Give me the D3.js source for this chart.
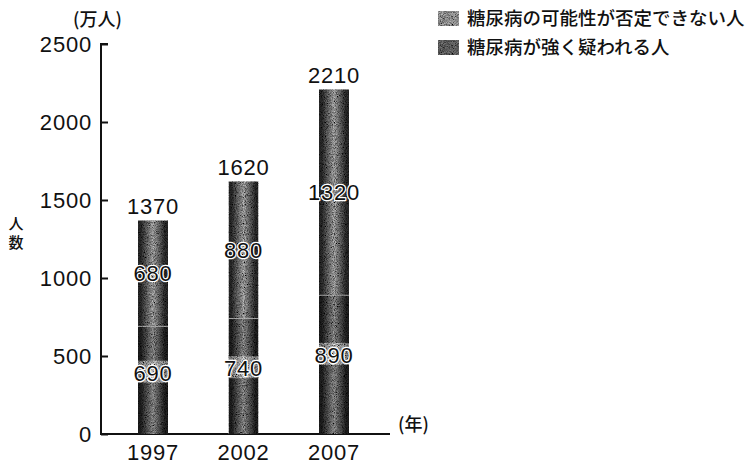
<!DOCTYPE html>
<html lang="ja">
<head>
<meta charset="UTF-8">
<script src="https://cdn.jsdelivr.net/npm/d3@7"></script>
<style>
    body { margin: 0; background: white; }
    svg text { fill: #111; }
    .num { font-family: 'Liberation Sans', Arial, sans-serif; font-size: 22px; letter-spacing: 0.8px; }
    .jp { font-family: 'Noto Sans CJK JP', sans-serif; font-weight: 500; }
</style>
</head>
<body>
<div id="chart"></div>
<script>
    const years = ["1997", "2002", "2007"];
    const strong = [690, 740, 890];        // 糖尿病が強く疑われる人
    const possible = [680, 880, 1320];     // 糖尿病の可能性が否定できない人
    const totals = [1370, 1620, 2210];
    const yTicks = [0, 500, 1000, 1500, 2000, 2500];
    const legendLabels = ["糖尿病の可能性が否定できない人", "糖尿病が強く疑われる人"];

    const width = 753, height = 465;
    const svg = d3.select("#chart").append("svg")
        .attr("width", width).attr("height", height);

    const x = d3.scalePoint().domain(years).range([153, 334]);
    const y = d3.scaleLinear().domain([0, 2500]).range([434, 44]);
    const barW = 30;

    // cylinder-ish shading for the bars
    const defs = svg.append("defs");
    const mkGrad = (id, edge, mid) => {
        const g = defs.append("linearGradient").attr("id", id)
            .attr("x1", 0).attr("x2", 1).attr("y1", 0).attr("y2", 0);
        g.append("stop").attr("offset", "0%").attr("stop-color", edge);
        g.append("stop").attr("offset", "10%").attr("stop-color", edge);
        g.append("stop").attr("offset", "50%").attr("stop-color", mid);
        g.append("stop").attr("offset", "90%").attr("stop-color", edge);
        g.append("stop").attr("offset", "100%").attr("stop-color", edge);
    };
    mkGrad("gLow", "#1a1a1a", "#7c7c7c");
    mkGrad("gHigh", "#242424", "#929292");

    // scanned-print grain
    const grain = defs.append("filter").attr("id", "grain");
    grain.append("feTurbulence").attr("type", "fractalNoise")
        .attr("baseFrequency", 1.1).attr("numOctaves", 2).attr("seed", 5).attr("result", "n");
    grain.append("feColorMatrix").attr("in", "n").attr("type", "matrix")
        .attr("values", "1.6 0 0 0 -0.3  1.6 0 0 0 -0.3  1.6 0 0 0 -0.3  0 0 0 0 1").attr("result", "g");
    grain.append("feBlend").attr("in", "g").attr("in2", "SourceGraphic").attr("mode", "overlay").attr("result", "b");
    grain.append("feComposite").attr("in", "b").attr("in2", "SourceGraphic").attr("operator", "in");

    // axes
    const yAxis = d3.axisLeft(y).tickValues(yTicks).tickSize(-7).tickPadding(9).tickFormat(d3.format("d"));
    const gy = svg.append("g").attr("transform", "translate(101,0)").call(yAxis);
    gy.select(".domain").attr("d", `M7,${y(2500)}H0V${y(0)}`).attr("stroke", "#111").attr("stroke-width", 2);
    gy.selectAll(".tick line").attr("stroke", "#111").attr("stroke-width", 2);
    gy.selectAll(".tick text").attr("class", "num").attr("font-family", null).attr("font-size", null);

    svg.append("line").attr("x1", 100).attr("x2", 390)
        .attr("y1", y(0)).attr("y2", y(0)).attr("stroke", "#111").attr("stroke-width", 2);

    svg.selectAll(".year").data(years).enter().append("text")
        .attr("class", "num").attr("x", d => x(d)).attr("y", 460)
        .attr("text-anchor", "middle").text(d => d);

    // bars
    const bars = svg.selectAll(".bar").data(years).enter().append("g").attr("filter", "url(#grain)");
    bars.append("rect")
        .attr("x", d => x(d) - barW / 2).attr("width", barW)
        .attr("y", (d, i) => y(strong[i])).attr("height", (d, i) => y(0) - y(strong[i]))
        .attr("fill", "url(#gLow)");
    bars.append("rect")
        .attr("x", d => x(d) - barW / 2).attr("width", barW)
        .attr("y", (d, i) => y(strong[i] + possible[i])).attr("height", (d, i) => y(strong[i]) - y(strong[i] + possible[i]))
        .attr("fill", "url(#gHigh)");
    // lighter band behind lower value label
    bars.append("rect")
        .attr("x", d => x(d) - barW / 2).attr("width", barW)
        .attr("y", (d, i) => y(strong[i] * 0.57) - 12).attr("height", 22)
        .attr("fill", "#fff").attr("opacity", 0.4);
    // segment boundary
    svg.selectAll(".seam").data(years).enter().append("line")
        .attr("x1", d => x(d) - barW / 2).attr("x2", d => x(d) + barW / 2)
        .attr("y1", (d, i) => y(strong[i])).attr("y2", (d, i) => y(strong[i]))
        .attr("stroke", "#aaa").attr("stroke-width", 1).attr("opacity", 0.6);

    // value labels
    const halo = sel => sel.attr("stroke", "#fff").attr("stroke-width", 2.5)
        .attr("paint-order", "stroke").attr("stroke-linejoin", "round");
    svg.selectAll(".lowLab").data(years).enter().append("text")
        .attr("class", "num").attr("text-anchor", "middle")
        .attr("x", d => x(d)).attr("y", (d, i) => y(strong[i] * 0.57) + 8)
        .text((d, i) => strong[i]).call(halo);
    svg.selectAll(".highLab").data(years).enter().append("text")
        .attr("class", "num").attr("text-anchor", "middle")
        .attr("x", d => x(d)).attr("y", (d, i) => y(strong[i] + possible[i] / 2) + 8)
        .text((d, i) => possible[i]).call(halo);
    svg.selectAll(".totLab").data(years).enter().append("text")
        .attr("class", "num").attr("text-anchor", "middle")
        .attr("x", d => x(d)).attr("y", (d, i) => y(totals[i]) - 6)
        .text((d, i) => totals[i]);

    // axis titles
    svg.append("text").attr("class", "jp").attr("x", 73).attr("y", 26)
        .attr("font-size", 18).text("(万人)");
    svg.append("text").attr("class", "jp").attr("x", 16).attr("y", 229)
        .attr("text-anchor", "middle").attr("font-size", 15).text("人");
    svg.append("text").attr("class", "jp").attr("x", 16).attr("y", 248)
        .attr("text-anchor", "middle").attr("font-size", 15).text("数");
    svg.append("text").attr("class", "jp").attr("x", 398).attr("y", 431)
        .attr("font-size", 18).text("(年)");

    // legend
    const legend = svg.selectAll(".leg").data(legendLabels).enter().append("g")
        .attr("transform", (d, i) => `translate(438,${11 + i * 29})`);
    legend.append("rect").attr("width", 21).attr("height", 15)
        .attr("fill", (d, i) => i === 0 ? "#8a8a8a" : "#5a5a5a").attr("filter", "url(#grain)");
    legend.append("text").attr("class", "jp").attr("x", 29).attr("y", 14)
        .attr("font-size", 18.5).text(d => d);
</script>
</body>
</html>
